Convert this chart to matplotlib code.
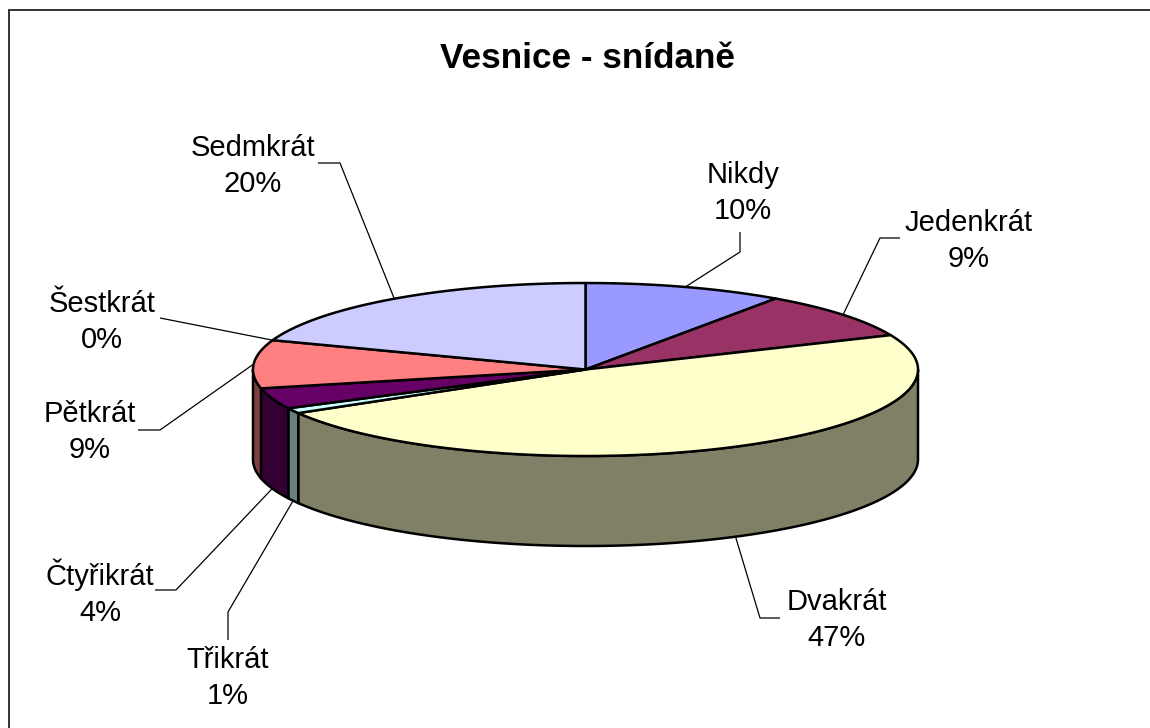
import numpy as np
import matplotlib
matplotlib.use("Agg")
import matplotlib.pyplot as plt
from matplotlib.patches import Polygon

title = "Vesnice - snídaně"
categories = ["Nikdy", "Jedenkrát", "Dvakrát", "Třikrát", "Čtyřikrát", "Pětkrát", "Šestkrát", "Sedmkrát"]
shares = [9.7, 8.8, 48.1, 1.0, 3.9, 9.0, 0.0, 19.5]
percent_labels = ["10%", "9%", "47%", "1%", "4%", "9%", "0%", "20%"]
top_colors = ["#9999FF", "#993366", "#FFFFCC", "#CCFFFF", "#660066", "#FF8080", "#0066CC", "#CCCCFF"]

# layout, in pixels of the 1150x728 canvas
CX, CY, RX, RY, DEPTH = 585.5, 369.5, 332.5, 86.5, 90
label_pos = [(743, 193), (969, 241), (837, 620), (228, 678), (100, 593), (90, 432), (102, 322), (253, 166)]
elbows = [
    [(740, 232), (740, 252)],
    [(900, 238), (880, 238)],
    [(780, 618), (760, 618)],
    [(228, 640), (228, 612)],
    [(155, 590), (176, 590)],
    [(138, 430), (160, 430)],
    [(160, 318)],
    [(318, 163), (340, 163)],
]

plt.rcParams["font.family"] = ["Liberation Sans", "DejaVu Sans"]
fig = plt.figure(figsize=(11.5, 7.28), dpi=100)
ax = fig.add_axes([0, 0, 1, 1])
ax.set_xlim(0, 1150)
ax.set_ylim(728, 0)
ax.axis("off")

LW = 1.8


def rim(theta):
    theta = np.asarray(theta)
    return CX + RX * np.sin(theta), CY - RY * np.cos(theta)


edges = np.radians(np.concatenate([[0], np.cumsum(shares)]) * 3.6)


def darker(color):
    return tuple(c * 0.5 for c in matplotlib.colors.to_rgb(color))


# side walls: only the front half (90 to 270 degrees) is visible
for a, b, col in zip(edges[:-1], edges[1:], top_colors):
    lo, hi = max(a, np.pi / 2), min(b, 3 * np.pi / 2)
    if hi <= lo:
        continue
    t = np.linspace(lo, hi, 120)
    x, y = rim(t)
    pts = np.r_[np.c_[x, y], np.c_[x, y + DEPTH][::-1]]
    ax.add_patch(Polygon(pts, closed=True, fc=darker(col), ec="black", lw=LW, joinstyle="round", zorder=2))

# top faces
for a, b, col in zip(edges[:-1], edges[1:], top_colors):
    if b <= a:
        continue
    t = np.linspace(a, b, 200)
    x, y = rim(t)
    pts = np.r_[[[CX, CY]], np.c_[x, y]]
    ax.add_patch(Polygon(pts, closed=True, fc=col, ec="black", lw=LW, joinstyle="round", zorder=3))

# leader lines and labels
for i, (name, pct) in enumerate(zip(categories, percent_labels)):
    mid = (edges[i] + edges[i + 1]) / 2
    x, y = rim(mid)
    if np.pi / 2 < mid < 3 * np.pi / 2:
        y = y + DEPTH
    px = [p[0] for p in elbows[i]] + [float(x)]
    py = [p[1] for p in elbows[i]] + [float(y)]
    ax.plot(px, py, color="black", lw=0.9, zorder=1, solid_capstyle="butt")
    lx, ly = label_pos[i]
    ax.text(lx, ly, f"{name}\n{pct}", ha="center", va="center", fontsize=21, color="black",
            linespacing=1.38, zorder=4)

ax.text(587, 59, title, ha="center", va="center", fontsize=25.3, fontweight="bold", color="black")

# chart frame
ax.plot([8.5, 8.5], [728, 9.5], color="#333333", lw=1.4, solid_capstyle="butt", zorder=5)
ax.plot([8, 1150], [9.5, 9.5], color="#333333", lw=1.4, solid_capstyle="butt", zorder=5)

fig.savefig("out.png", dpi=100)
